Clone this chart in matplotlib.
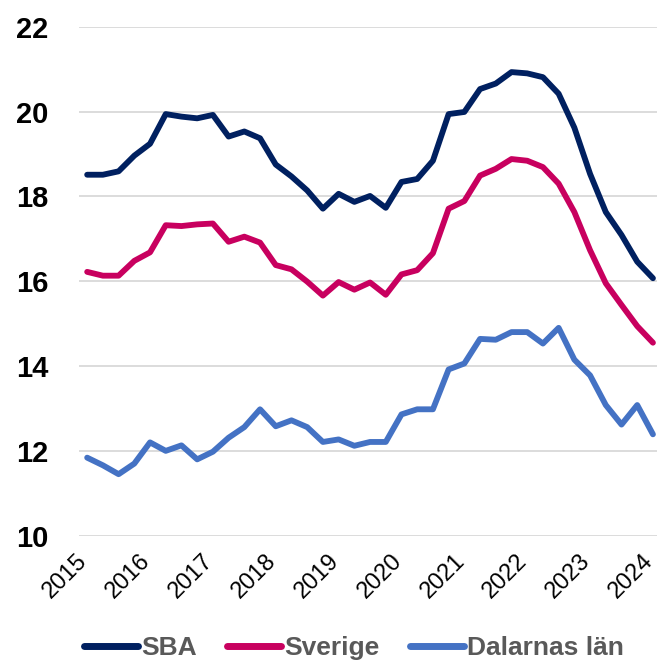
import matplotlib
matplotlib.use("Agg")
import matplotlib.pyplot as plt
import matplotlib.transforms as mtransforms
import numpy as np

years = ["2015", "2016", "2017", "2018", "2019", "2020", "2021", "2022", "2023", "2024"]

sba = [18.51, 18.51, 18.59, 18.96, 19.24, 19.94, 19.88, 19.84, 19.92, 19.41,
       19.53, 19.37, 18.75, 18.47, 18.14, 17.71, 18.06, 17.87, 18.01, 17.73,
       18.34, 18.41, 18.84, 19.94, 19.99, 20.53, 20.66, 20.93, 20.90, 20.81,
       20.42, 19.62, 18.53, 17.63, 17.09, 16.46, 16.07]

sverige = [16.22, 16.13, 16.13, 16.48, 16.68, 17.32, 17.30, 17.34, 17.36, 16.93,
           17.05, 16.91, 16.38, 16.28, 15.99, 15.66, 15.98, 15.80, 15.97, 15.68,
           16.16, 16.26, 16.66, 17.71, 17.89, 18.49, 18.65, 18.88, 18.84, 18.69,
           18.30, 17.63, 16.73, 15.95, 15.44, 14.94, 14.55]

dalarna = [11.84, 11.66, 11.45, 11.70, 12.20, 12.00, 12.13, 11.80, 11.98, 12.31,
           12.56, 12.98, 12.58, 12.72, 12.56, 12.21, 12.27, 12.12, 12.21, 12.21,
           12.86, 12.98, 12.98, 13.92, 14.06, 14.64, 14.62, 14.80, 14.80, 14.53,
           14.90, 14.15, 13.78, 13.08, 12.62, 13.08, 12.39]

series_names = ["SBA", "Sverige", "Dalarnas län"]
colors = ["#002060", "#C8005F", "#4472C4"]

fig = plt.figure(figsize=(6.57, 6.61), dpi=100)
ax = fig.add_axes([79.3 / 657, 125.3 / 661, (660.8 - 79.3) / 657, (535.7 - 26.7) / 661])

x = np.arange(len(sba))
for vals, name, col in zip([sba, sverige, dalarna], series_names, colors):
    ax.plot(x, vals, color=col, lw=4.2, label=name, solid_joinstyle="round",
            solid_capstyle="round", zorder=3)

ax.set_xlim(-0.5, len(sba) - 0.5)
ax.set_ylim(10, 22)
ax.set_yticks(np.arange(10, 23, 2))
ax.yaxis.grid(True, color="#D9D9D9", lw=1.3, zorder=0)
ax.set_axisbelow(True)
for s in ax.spines.values():
    s.set_visible(False)

ax.tick_params(axis="y", length=0, pad=22)
for lbl in ax.get_yticklabels():
    lbl.set_fontfamily("Liberation Sans")
    lbl.set_fontweight("bold")
    lbl.set_fontsize(21)
    lbl.set_color("black")

ax.set_xticks(np.arange(0, len(sba), 4))
ax.set_xticklabels(years, rotation=45, ha="right", va="center", rotation_mode="anchor",
                   fontfamily="Liberation Sans", fontsize=17, color="black")
ax.tick_params(axis="x", length=0, pad=16)
offset = mtransforms.ScaledTranslation(-3 / 100, 0, fig.dpi_scale_trans)
for lbl in ax.get_xticklabels():
    lbl.set_transform(lbl.get_transform() + offset)

leg = fig.legend(loc="center", bbox_to_anchor=(354 / 657, 13 / 661), ncol=3, frameon=False,
                 prop={"family": "Liberation Sans", "weight": "bold", "size": 19},
                 handlelength=2.05, handletextpad=0.12, columnspacing=1.15, borderpad=0)
for t in leg.get_texts():
    t.set_color("#595959")
for h in leg.get_lines():
    h.set_linewidth(5)
    h.set_solid_capstyle("round")

fig.savefig("out.png", dpi=100)
